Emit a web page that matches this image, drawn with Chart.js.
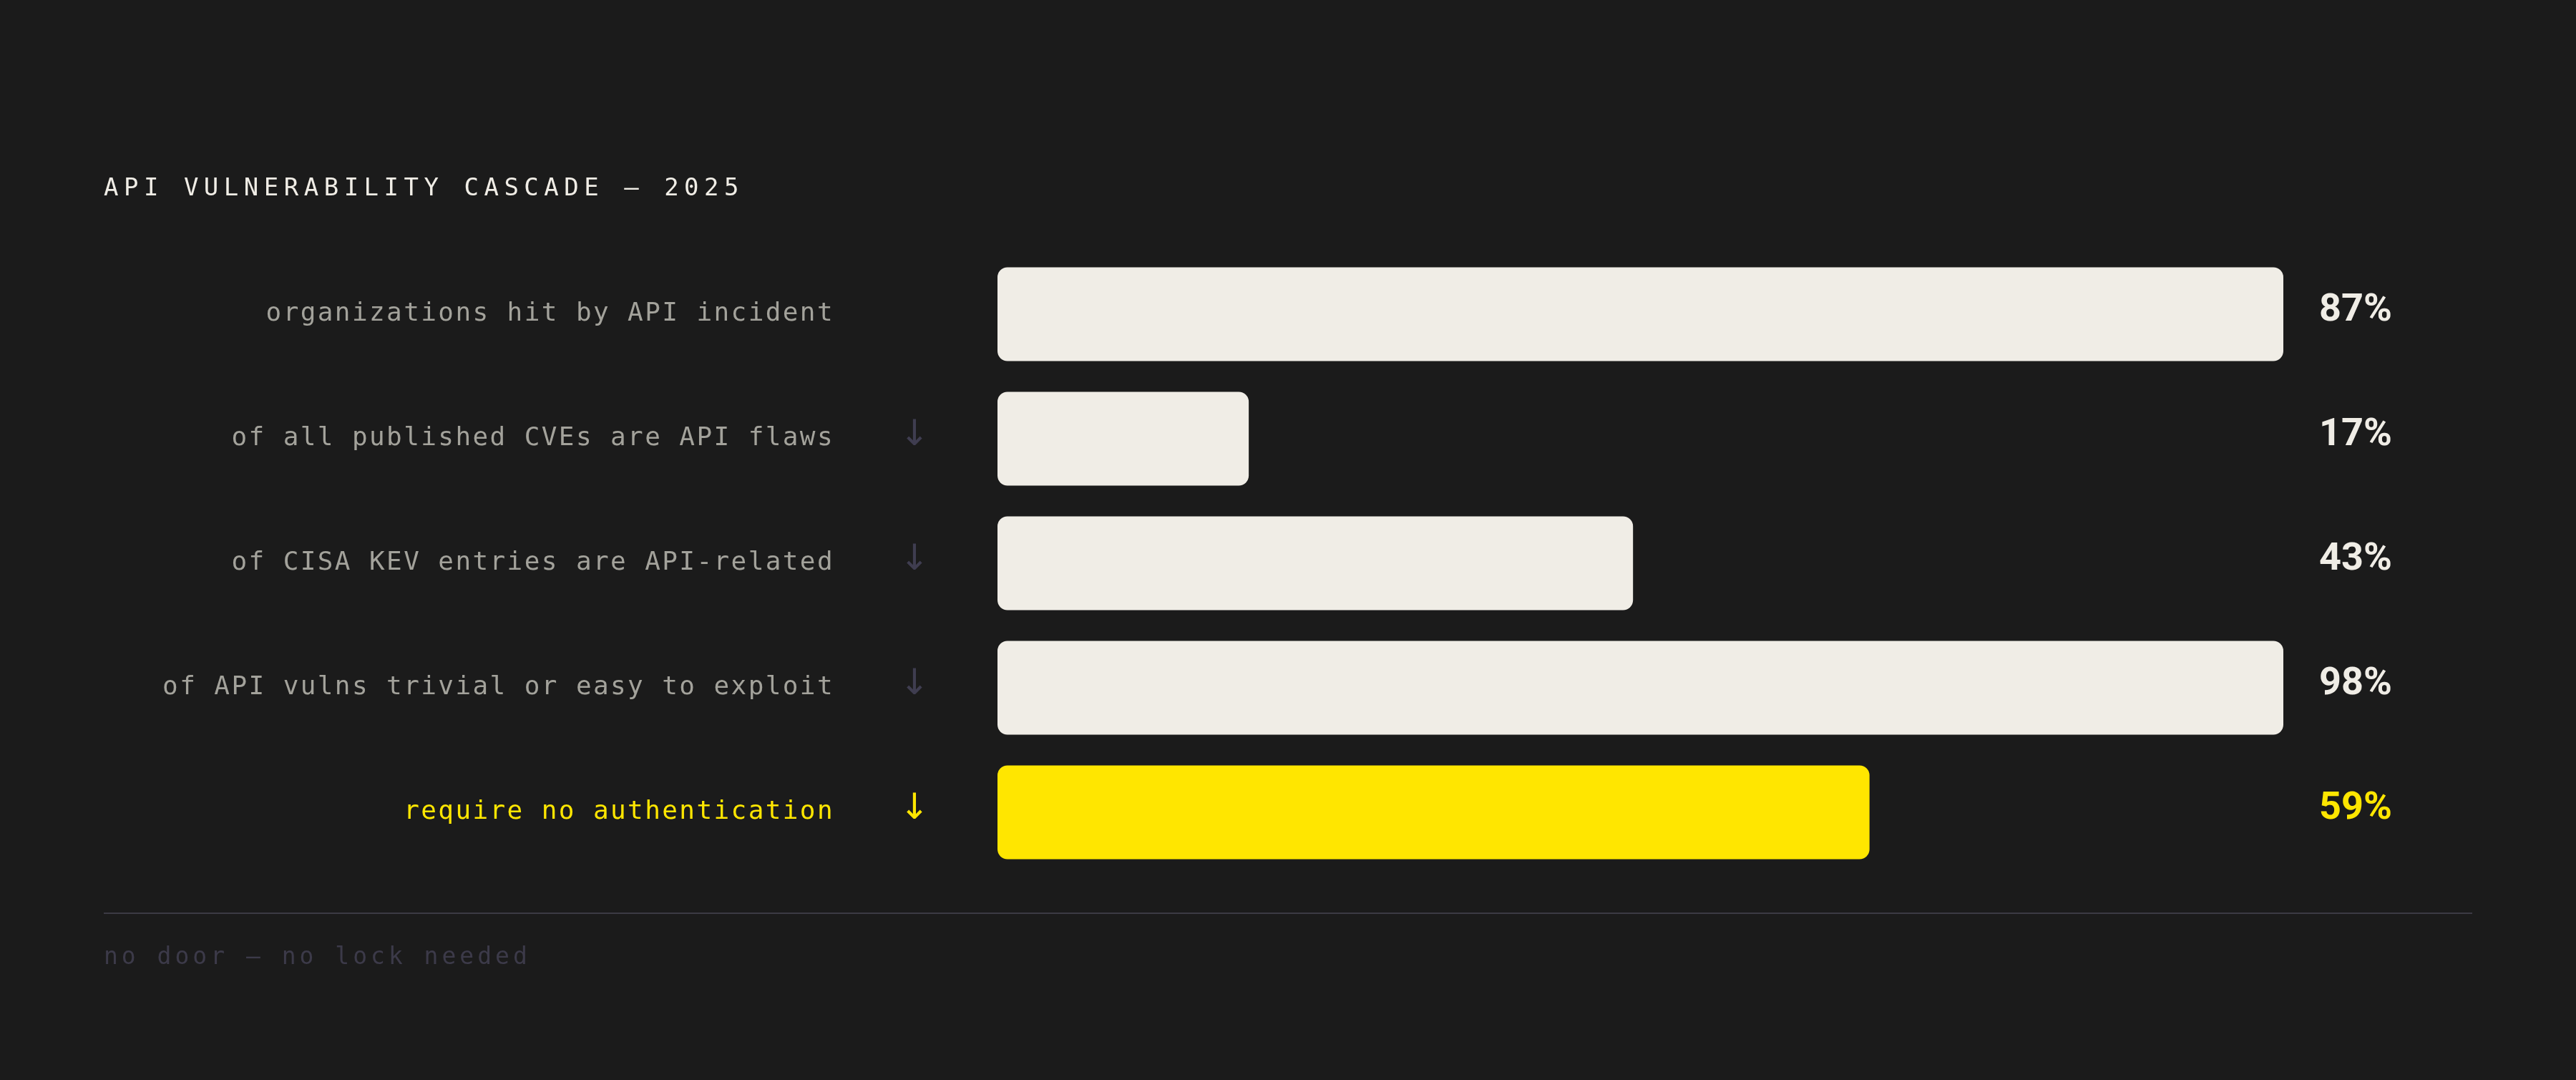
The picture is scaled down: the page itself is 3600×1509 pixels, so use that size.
<!DOCTYPE html>
<html>
<head>
<meta charset="utf-8">
<script src="https://cdn.jsdelivr.net/npm/chart.js@4.4.1/dist/chart.umd.min.js"></script>
<style>
  html, body { margin: 0; padding: 0; background: #1b1b1b; }
  #wrap { position: relative; width: 3600px; height: 1509px; }
</style>
</head>
<body>
<div id="wrap"><canvas id="cascade"></canvas></div>
<script>
// --- Data ---
const title = 'API VULNERABILITY CASCADE — 2025';
const footnote = 'no door — no lock needed';
const categories = [
    'organizations hit by API incident',
    'of all published CVEs are API flaws',
    'of CISA KEV entries are API-related',
    'of API vulns trivial or easy to exploit',
    'require no authentication'
];
const shares = [87, 17, 43, 98, 59];
const hasArrow = [false, true, true, true, true];
const valueLabels = shares.map(v => v + '%');

// the bar scale tops out at the first figure, longer bars stop at the edge
const scaleMax = 87;
const barLengths = shares.map(v => Math.min(v, scaleMax));

// --- Style ---
const BG = '#1b1b1b';
const CREAM = '#f0ede6';
const YELLOW = '#ffe600';
const LABEL_GREY = '#a3a29b';
const ARROW_GREY = '#3f3d50';
const FOOT_GREY = '#3c3a49';
const MONO = '"DejaVu Sans Mono", "Liberation Mono", monospace';

const highlight = categories.length - 1;
const barColors = categories.map((c, i) => i === highlight ? YELLOW : CREAM);
const labelColors = categories.map((c, i) => i === highlight ? YELLOW : LABEL_GREY);

const spacingPlugin = {
    id: 'spacing',
    beforeDraw(chart) {
        const ctx = chart.ctx;
        ctx.fillStyle = BG;
        ctx.fillRect(0, 0, chart.width, chart.height);
        ctx.letterSpacing = '2.4px';
    },
    beforeDatasetsDraw(chart) {
        chart.ctx.letterSpacing = '0px';
    }
};

const decorPlugin = {
    id: 'decor',
    afterDraw(chart) {
        const ctx = chart.ctx;
        const area = chart.chartArea;
        const y = chart.scales.y;
        ctx.save();

        // title
        ctx.letterSpacing = '7.5px';
        ctx.font = '34px ' + MONO;
        ctx.fillStyle = CREAM;
        ctx.textAlign = 'left';
        ctx.textBaseline = 'alphabetic';
        ctx.fillText(title, 145, 273);

        // arrows and values per row
        ctx.letterSpacing = '0px';
        categories.forEach((c, i) => {
            const cy = y.getPixelForValue(i);
            if (hasArrow[i]) {
                ctx.font = '50px "DejaVu Sans"';
                ctx.fillStyle = i === highlight ? YELLOW : ARROW_GREY;
                ctx.textAlign = 'center';
                ctx.textBaseline = 'middle';
                ctx.fillText('↓', 1278, cy - 4);
            }
            ctx.font = '700 54px Roboto';
            ctx.fillStyle = i === highlight ? YELLOW : CREAM;
            ctx.textAlign = 'left';
            ctx.textBaseline = 'middle';
            ctx.fillText(valueLabels[i], area.right + 50, cy - 5);
        });

        // rule + footnote
        ctx.strokeStyle = '#3b3a44';
        ctx.lineWidth = 2;
        ctx.beginPath();
        ctx.moveTo(145, 1276);
        ctx.lineTo(3455, 1276);
        ctx.stroke();

        ctx.letterSpacing = '5px';
        ctx.font = '33px ' + MONO;
        ctx.fillStyle = FOOT_GREY;
        ctx.textAlign = 'left';
        ctx.textBaseline = 'alphabetic';
        ctx.fillText(footnote, 145, 1347);
        ctx.restore();
    }
};

new Chart(document.getElementById('cascade'), {
    type: 'bar',
    data: {
        labels: categories,
        datasets: [{
            data: barLengths,
            backgroundColor: barColors,
            borderRadius: 14,
            borderSkipped: false,
            categoryPercentage: 1,
            barPercentage: 0.753
        }]
    },
    options: {
        indexAxis: 'y',
        responsive: true,
        maintainAspectRatio: false,
        animation: false,
        devicePixelRatio: 1,
        layout: { padding: { left: 145, right: 409, top: 352, bottom: 287 } },
        plugins: { legend: { display: false }, tooltip: { enabled: false } },
        scales: {
            x: { display: false, min: 0, max: scaleMax },
            y: {
                grid: { display: false },
                border: { display: false },
                afterFit(scale) { scale.width = 1394 - 145; },
                ticks: {
                    padding: 220,
                    color: labelColors,
                    font: { family: MONO, size: 36 }
                }
            }
        }
    },
    plugins: [spacingPlugin, decorPlugin]
});
</script>
</body>
</html>
